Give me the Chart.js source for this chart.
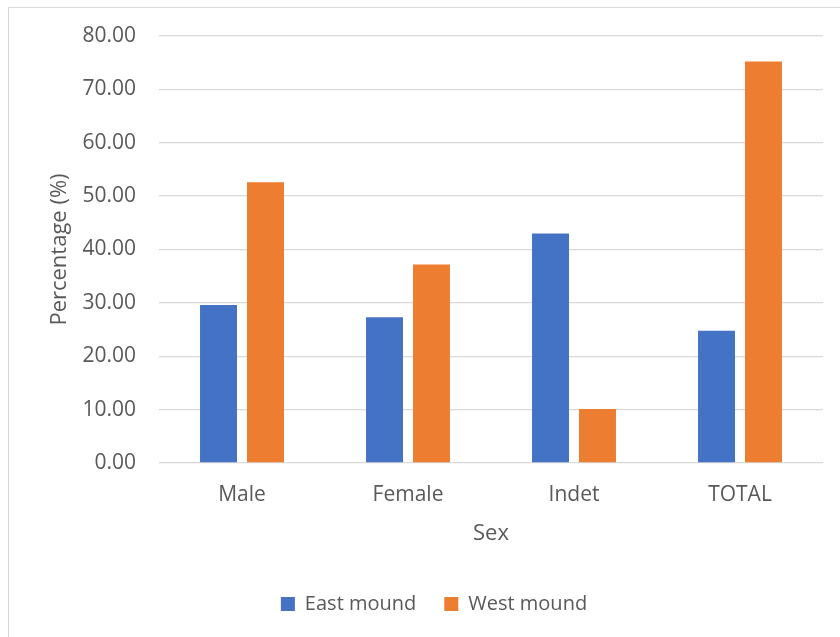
<!DOCTYPE html>
<html>
<head>
<meta charset="utf-8">
<title>Sex distribution by mound</title>
<script src="https://cdn.jsdelivr.net/npm/chart.js@4.4.1/dist/chart.umd.min.js"></script>
<style>
  html, body { margin: 0; padding: 0; background: #fff; overflow: hidden; }
  #wrap { position: relative; width: 840px; height: 637px; overflow: hidden; }
  #frame { position: absolute; left: 8px; top: 7px; width: 900px; height: 700px; border: 1px solid #d9d9d9; }
  #box { position: absolute; left: 0; top: 0; }
</style>
</head>
<body>
<div id="wrap">
  <div id="frame"></div>
  <div id="box"><canvas id="sexChart" width="868" height="637"></canvas></div>
</div>
<script>
// categories and percentages per mound
const categories = ["Male", "Female", "Indet", "TOTAL"];
const eastMound = [29.6, 27.3, 43.0, 24.8];
const westMound = [52.6, 37.2, 10.1, 75.2];
const yTicks = [0, 10, 20, 30, 40, 50, 60, 70, 80];

const grey = "#595959";
const font = "'Open Sans', 'DejaVu Sans', sans-serif";

const ctx = document.getElementById("sexChart").getContext("2d");

const chart = new Chart(ctx, {
    type: "bar",
    data: {
        labels: categories,
        datasets: [{
            label: "East mound",
            data: eastMound,
            backgroundColor: "#4472c4",
            categoryPercentage: 0.566,
            barPercentage: 0.787
        }, {
            label: "West mound",
            data: westMound,
            backgroundColor: "#ed7d31",
            categoryPercentage: 0.566,
            barPercentage: 0.787
        }]
    },
    options: {
        responsive: false,
        animation: false,
        layout: {
            padding: { top: 36, right: 45, bottom: 13, left: 45 }
        },
        scales: {
            x: {
                afterFit: (scale) => {
                    scale.height = 103;
                },
                grid: { display: false, drawTicks: false },
                border: { display: false },
                ticks: {
                    color: grey,
                    padding: 19,
                    font: { family: font, size: 21 }
                },
                title: {
                    display: true,
                    text: "Sex",
                    color: grey,
                    padding: { top: 0, bottom: 19 },
                    font: { family: font, size: 22 }
                }
            },
            y: {
                min: 0,
                max: 80,
                afterBuildTicks: (scale) => {
                    scale.ticks = yTicks.map(v => ({ value: v }));
                },
                afterFit: (scale) => {
                    scale.width = 114;
                },
                grid: { color: "#d9d9d9", lineWidth: 1.3, drawTicks: false },
                border: { display: false },
                ticks: {
                    color: grey,
                    padding: 23,
                    font: { family: font, size: 21 },
                    callback: (value) => Number(value).toFixed(2)
                },
                title: {
                    display: true,
                    text: "Percentage (%)",
                    color: grey,
                    padding: { top: 2, bottom: 0 },
                    font: { family: font, size: 22 }
                }
            }
        },
        plugins: {
            legend: {
                position: "bottom",
                labels: {
                    color: grey,
                    boxWidth: 14,
                    boxHeight: 14,
                    padding: 28,
                    font: { family: font, size: 20 }
                }
            },
            tooltip: { enabled: false }
        }
    }
});
</script>
</body>
</html>
